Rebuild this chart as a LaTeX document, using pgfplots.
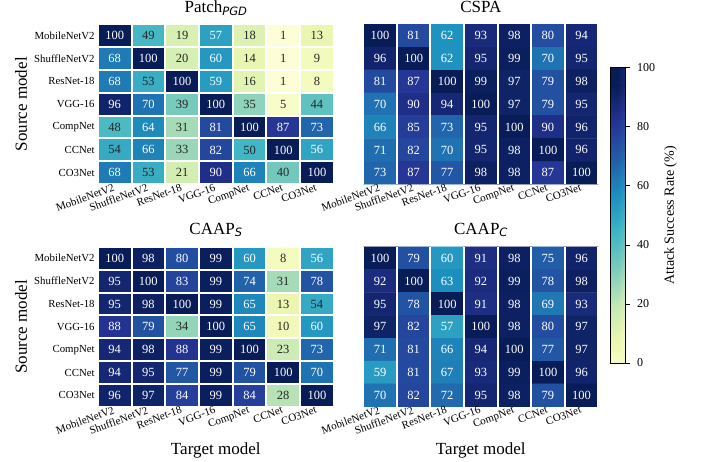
\documentclass[border=0pt]{standalone}
\usepackage{fontspec}
\setmainfont{Liberation Serif}
\newfontfamily\djs{DejaVu Sans}
\usepackage{pgfplots}
\usepackage{pgfplotstable}
\pgfplotsset{compat=1.18}
\pgfplotsset{/pgf/number format/assume math mode=true}
\pgfplotsset{colormap={ylgnbu}{rgb255=(255,255,217) rgb255=(237,248,177) rgb255=(199,233,180) rgb255=(127,205,187) rgb255=(65,182,196) rgb255=(29,145,192) rgb255=(34,94,168) rgb255=(37,52,148) rgb255=(8,29,88)}}

\pgfplotstableread[row sep=\\]{
x y c\\
0 0 100\\ 1 0 49\\ 2 0 19\\ 3 0 57\\ 4 0 18\\ 5 0 1\\ 6 0 13\\
0 1 68\\ 1 1 100\\ 2 1 20\\ 3 1 60\\ 4 1 14\\ 5 1 1\\ 6 1 9\\
0 2 68\\ 1 2 53\\ 2 2 100\\ 3 2 59\\ 4 2 16\\ 5 2 1\\ 6 2 8\\
0 3 96\\ 1 3 70\\ 2 3 39\\ 3 3 100\\ 4 3 35\\ 5 3 5\\ 6 3 44\\
0 4 48\\ 1 4 64\\ 2 4 31\\ 3 4 81\\ 4 4 100\\ 5 4 87\\ 6 4 73\\
0 5 54\\ 1 5 66\\ 2 5 33\\ 3 5 82\\ 4 5 50\\ 5 5 100\\ 6 5 56\\
0 6 68\\ 1 6 53\\ 2 6 21\\ 3 6 90\\ 4 6 66\\ 5 6 40\\ 6 6 100\\
}\tabPatch

\pgfplotstableread[row sep=\\]{
x y c\\
0 0 100\\ 1 0 81\\ 2 0 62\\ 3 0 93\\ 4 0 98\\ 5 0 80\\ 6 0 94\\
0 1 96\\ 1 1 100\\ 2 1 62\\ 3 1 95\\ 4 1 99\\ 5 1 70\\ 6 1 95\\
0 2 81\\ 1 2 87\\ 2 2 100\\ 3 2 99\\ 4 2 97\\ 5 2 79\\ 6 2 98\\
0 3 70\\ 1 3 90\\ 2 3 94\\ 3 3 100\\ 4 3 97\\ 5 3 79\\ 6 3 95\\
0 4 66\\ 1 4 85\\ 2 4 73\\ 3 4 95\\ 4 4 100\\ 5 4 90\\ 6 4 96\\
0 5 71\\ 1 5 82\\ 2 5 70\\ 3 5 95\\ 4 5 98\\ 5 5 100\\ 6 5 96\\
0 6 73\\ 1 6 87\\ 2 6 77\\ 3 6 98\\ 4 6 98\\ 5 6 87\\ 6 6 100\\
}\tabCSPA

\pgfplotstableread[row sep=\\]{
x y c\\
0 0 100\\ 1 0 98\\ 2 0 80\\ 3 0 99\\ 4 0 60\\ 5 0 8\\ 6 0 56\\
0 1 95\\ 1 1 100\\ 2 1 83\\ 3 1 99\\ 4 1 74\\ 5 1 31\\ 6 1 78\\
0 2 95\\ 1 2 98\\ 2 2 100\\ 3 2 99\\ 4 2 65\\ 5 2 13\\ 6 2 54\\
0 3 88\\ 1 3 79\\ 2 3 34\\ 3 3 100\\ 4 3 65\\ 5 3 10\\ 6 3 60\\
0 4 94\\ 1 4 98\\ 2 4 88\\ 3 4 99\\ 4 4 100\\ 5 4 23\\ 6 4 73\\
0 5 94\\ 1 5 95\\ 2 5 77\\ 3 5 99\\ 4 5 79\\ 5 5 100\\ 6 5 70\\
0 6 96\\ 1 6 97\\ 2 6 84\\ 3 6 99\\ 4 6 84\\ 5 6 28\\ 6 6 100\\
}\tabCAAPS

\pgfplotstableread[row sep=\\]{
x y c\\
0 0 100\\ 1 0 79\\ 2 0 60\\ 3 0 91\\ 4 0 98\\ 5 0 75\\ 6 0 96\\
0 1 92\\ 1 1 100\\ 2 1 63\\ 3 1 92\\ 4 1 99\\ 5 1 78\\ 6 1 98\\
0 2 95\\ 1 2 78\\ 2 2 100\\ 3 2 91\\ 4 2 98\\ 5 2 69\\ 6 2 93\\
0 3 97\\ 1 3 82\\ 2 3 57\\ 3 3 100\\ 4 3 98\\ 5 3 80\\ 6 3 97\\
0 4 71\\ 1 4 81\\ 2 4 66\\ 3 4 94\\ 4 4 100\\ 5 4 77\\ 6 4 97\\
0 5 59\\ 1 5 81\\ 2 5 67\\ 3 5 93\\ 4 5 99\\ 5 5 100\\ 6 5 96\\
0 6 70\\ 1 6 82\\ 2 6 72\\ 3 6 95\\ 4 6 98\\ 5 6 79\\ 6 6 100\\
}\tabCAAPC

\pgfplotsset{
  hm/.style={
    scale only axis, width=236pt, height=160pt,
    xmin=-0.5, xmax=6.5, ymin=-0.5, ymax=6.5, y dir=reverse,
    colormap name=ylgnbu, point meta min=0, point meta max=100,
    axis line style={draw=none}, major tick length=0pt, minor tick length=0pt,
    xtick={0,...,6},
    xticklabels={MobileNetV2,ShuffleNetV2,ResNet-18,VGG-16,CompNet,CCNet,CO3Net},
    minor xtick={-0.5,0.5,...,6.5}, minor ytick={-0.5,0.5,...,6.5},
    grid=minor, minor grid style={white, line width=2pt},
    axis on top,
    x tick label style={xshift=-2pt, yshift=1pt, rotate=20, anchor=north east, inner sep=0pt, font=\fontsize{11}{12}\selectfont},
    y tick label style={anchor=east, inner sep=0pt, xshift=-3pt, font=\fontsize{10.8}{12}\selectfont},
    title style={at={(axis description cs:0.5,1.033)}, anchor=base, font=\fontsize{17}{18}\selectfont},
    ylabel style={at={(axis description cs:-0.325,0.5)}, anchor=center, font=\fontsize{17}{18}\selectfont},
    xlabel style={at={(axis description cs:0.5,-0.27)}, anchor=center, font=\fontsize{17}{18}\selectfont},
  },
  lefty/.style={ytick={0,...,6}, yticklabels={MobileNetV2,ShuffleNetV2,ResNet-18,VGG-16,CompNet,CCNet,CO3Net}, ylabel={Source model}},
  righty/.style={ytick=\empty},
  cells/.style={matrix plot*, mesh/cols=7, point meta=explicit},
  vals/.style={only marks, mark=none, point meta=explicit symbolic,
    nodes near coords={\ifnum\pgfplotspointmeta>54 \color{white}\else\color{black!85}\fi\pgfplotspointmeta},
    nodes near coords align={center},
    every node near coord/.append style={font=\fontsize{12.5}{13}\selectfont, inner sep=0pt}},
}

\begin{document}
\begin{tikzpicture}[x=1pt,y=1pt]
\useasboundingbox (0pt,0pt) rectangle (701pt,461pt);

\begin{axis}[hm, lefty, at={(97.8pt,276.8pt)}, anchor=south west,
  title={Patch\raisebox{-0.3ex}{\fontsize{11.5}{12}\djs\itshape PGD}}]
\addplot[cells] table[x=x,y=y,meta=c]{\tabPatch};
\addplot[vals] table[x=x,y=y,meta=c]{\tabPatch};
\end{axis}

\begin{axis}[hm, righty, at={(363.3pt,276.8pt)}, anchor=south west, width=235pt,
  title={CSPA}]
\addplot[cells] table[x=x,y=y,meta=c]{\tabCSPA};
\addplot[vals] table[x=x,y=y,meta=c]{\tabCSPA};
\end{axis}

\begin{axis}[hm, lefty, at={(97.8pt,54.2pt)}, anchor=south west,
  title={CAAP\raisebox{-0.3ex}{\fontsize{11.5}{12}\djs\itshape S}}, xlabel={Target model},
  title style={at={(axis description cs:0.5,1.042)}}]
\addplot[cells] table[x=x,y=y,meta=c]{\tabCAAPS};
\addplot[vals] table[x=x,y=y,meta=c]{\tabCAAPS};
\end{axis}

\begin{axis}[hm, righty, at={(363.3pt,54.2pt)}, anchor=south west, width=235pt,
  title={CAAP\raisebox{-0.3ex}{\fontsize{11.5}{12}\djs\itshape C}}, xlabel={Target model},
  title style={at={(axis description cs:0.5,1.042)}}]
\addplot[cells] table[x=x,y=y,meta=c]{\tabCAAPC};
\addplot[vals] table[x=x,y=y,meta=c]{\tabCAAPC};
\end{axis}

% colorbar
\begin{axis}[at={(610pt,98pt)}, anchor=south west, scale only axis,
  width=15.5pt, height=295pt, xmin=0, xmax=1, ymin=0, ymax=100,
  colormap name=ylgnbu, point meta min=0, point meta max=100,
  xtick=\empty, ytick={0,20,...,100}, ytick pos=right, yticklabel pos=right,
  tick align=outside, major tick length=4.5pt,
  axis line style={line width=1pt}, every tick/.style={black, line width=1pt},
  y tick label style={inner sep=0pt, xshift=7pt, font=\fontsize{12}{13}\selectfont},
  ylabel={Attack Success Rate (\%)},
  ylabel style={at={(axis description cs:3.9,0.5)}, anchor=center, font=\fontsize{14}{15}\selectfont},
  axis on top]
\addplot[surf, shader=interp, mesh/cols=2, point meta=y] coordinates {
(0,0) (1,0) (0,12.5) (1,12.5) (0,25) (1,25) (0,37.5) (1,37.5) (0,50) (1,50)
(0,62.5) (1,62.5) (0,75) (1,75) (0,87.5) (1,87.5) (0,100) (1,100)};
\end{axis}
\end{tikzpicture}
\end{document}
